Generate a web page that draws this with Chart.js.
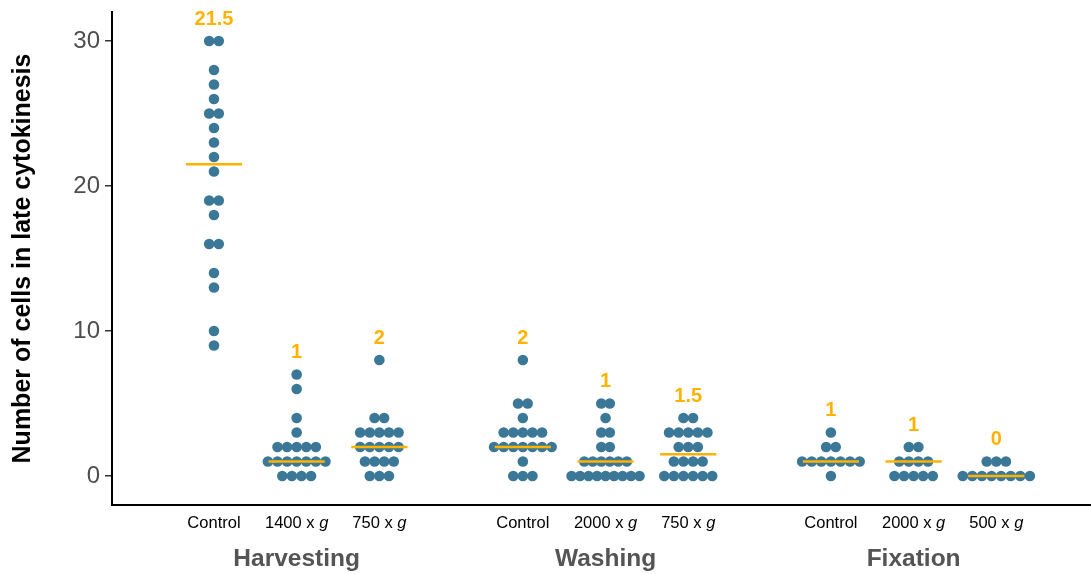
<!DOCTYPE html>
<html>
<head>
<meta charset="utf-8">
<script src="https://cdn.jsdelivr.net/npm/chart.js@4/dist/chart.umd.min.js"></script>
<style>
  html, body { margin: 0; padding: 0; background: #fff; }
  #wrap { width: 1091px; height: 574px; }
</style>
</head>
<body>
<div id="wrap"><canvas id="c" width="1091" height="574"></canvas></div>
<script>
// x positions of the nine conditions, three per step, with a gap between steps
const positions = [1, 2, 3, 4.735, 5.735, 6.735, 8.46, 9.46, 10.46];
const categories = ["Control", "1400 x g", "750 x g", "Control", "2000 x g", "750 x g", "Control", "2000 x g", "500 x g"];
const groups = ["Harvesting", "Washing", "Fixation"];
const groupCenters = [2, 5.735, 9.46];
const yTicks = [0, 10, 20, 30];

// cells in late cytokinesis, one value per field
const harvestControl = [30, 30, 28, 27, 26, 25, 25, 24, 23, 22, 21, 19, 19, 18, 16, 16, 14, 13, 10, 9];
const harvest1400 = [7, 6, 4, 3, 2, 2, 2, 2, 2, 1, 1, 1, 1, 1, 1, 1, 0, 0, 0, 0];
const harvest750 = [8, 4, 4, 3, 3, 3, 3, 3, 2, 2, 2, 2, 2, 1, 1, 1, 1, 0, 0, 0];
const washControl = [8, 5, 5, 4, 3, 3, 3, 3, 3, 2, 2, 2, 2, 2, 2, 2, 1, 0, 0, 0];
const wash2000 = [5, 5, 4, 3, 3, 2, 2, 1, 1, 1, 1, 1, 1, 0, 0, 0, 0, 0, 0, 0, 0, 0];
const wash750 = [4, 4, 3, 3, 3, 3, 3, 2, 2, 2, 1, 1, 1, 1, 0, 0, 0, 0, 0, 0];
const fixControl = [3, 2, 2, 1, 1, 1, 1, 1, 1, 1, 0];
const fix2000 = [2, 2, 1, 1, 1, 1, 0, 0, 0, 0, 0];
const fix500 = [1, 1, 1, 0, 0, 0, 0, 0, 0, 0, 0];
const series = [harvestControl, harvest1400, harvest750, washControl, wash2000, wash750, fixControl, fix2000, fix500];

const DOT = "#3b7898", MED = "#ffb300";
const FONT = "'Liberation Sans', Arial, Helvetica, sans-serif";
const X_MIN = -0.233, X_MAX = 11.605;
const GAP = 0.116, MAXW = 0.822, HALF = 0.34;

const median = (a) => { const s = [...a].sort((p, q) => p - q), n = s.length; return n % 2 ? s[(n - 1) / 2] : (s[n / 2 - 1] + s[n / 2]) / 2; };

// simple beeswarm: equal values sit side by side, centred on the condition
function swarm(vals, x0) {
  const rows = {};
  vals.forEach((v) => { rows[v] = (rows[v] || 0) + 1; });
  const widest = Math.max(...Object.values(rows));
  const gap = widest > 1 ? Math.min(GAP, MAXW / (widest - 1)) : GAP;
  const pts = [];
  Object.keys(rows).forEach((k) => {
    const n = rows[k];
    for (let i = 0; i < n; i++) pts.push({ x: x0 + (i - (n - 1) / 2) * gap, y: +k });
  });
  return pts;
}

const medians = series.map(median);
const datasets = [];
series.forEach((vals, i) => {
  datasets.push({ type: "scatter", data: swarm(vals, positions[i]), pointRadius: 5.3, pointHoverRadius: 5.3,
    backgroundColor: DOT, borderWidth: 0, order: 2 });
});
series.forEach((vals, i) => {
  datasets.push({ type: "line", data: [{ x: positions[i] - HALF, y: medians[i] }, { x: positions[i] + HALF, y: medians[i] }],
    borderColor: MED, borderWidth: 2.5, pointRadius: 0, order: 1 });
});

const labels = {
  id: "labels",
  afterDraw(chart) {
    const c = chart.ctx, xs = chart.scales.x, ys = chart.scales.y;
    c.save();
    c.textAlign = "center"; c.textBaseline = "middle";
    // median values above each swarm
    c.fillStyle = MED; c.font = "bold 20px " + FONT;
    series.forEach((vals, i) => {
      c.fillText(String(medians[i]), xs.getPixelForValue(positions[i]), ys.getPixelForValue(Math.max(...vals)) - 22);
    });
    // condition labels, "g" in italics
    c.fillStyle = "#000";
    categories.forEach((t, i) => {
      const cx = xs.getPixelForValue(positions[i]), y = 523;
      if (t.endsWith(" g")) {
        const a = t.slice(0, -1);
        c.font = "16.5px " + FONT; const wa = c.measureText(a).width;
        c.font = "italic 16.5px " + FONT; const wg = c.measureText("g").width;
        const left = cx - (wa + wg) / 2;
        c.textAlign = "left";
        c.font = "16.5px " + FONT; c.fillText(a, left, y);
        c.font = "italic 16.5px " + FONT; c.fillText("g", left + wa, y);
        c.textAlign = "center";
      } else {
        c.font = "16.5px " + FONT; c.fillText(t, cx, y);
      }
    });
    // step labels
    c.fillStyle = "#545454"; c.font = "bold 24.5px " + FONT;
    groups.forEach((g, i) => c.fillText(g, xs.getPixelForValue(groupCenters[i]), 559));
    c.restore();
  }
};

new Chart(document.getElementById("c"), {
  data: { datasets },
  plugins: [labels],
  options: {
    responsive: false, animation: false, devicePixelRatio: 1,
    layout: { autoPadding: false, padding: { top: 12, right: 0, bottom: 0, left: 0 } },
    plugins: { legend: { display: false }, tooltip: { enabled: false } },
    scales: {
      x: { type: "linear", min: X_MIN, max: X_MAX,
        grid: { display: false }, border: { display: true, color: "#000", width: 2 },
        ticks: { display: false },
        afterFit: (s) => { s.height = 69; } },
      y: { type: "linear", min: -2, max: 32,
        afterBuildTicks: (s) => { s.ticks = yTicks.map((v) => ({ value: v })); },
        grid: { drawOnChartArea: false, drawTicks: true, tickLength: 7, color: "#333", lineWidth: 1.5 },
        border: { display: true, color: "#000", width: 2 },
        ticks: { color: "#4d4d4d", padding: 5, font: { family: FONT, size: 24, lineHeight: 0.5 } },
        title: { display: true, text: "Number of cells in late cytokinesis", color: "#000",
          font: { family: FONT, size: 25, weight: "bold" }, padding: { top: 8, bottom: 0 } },
        afterFit: (s) => { s.width = 112; } }
    }
  }
});
</script>
</body>
</html>
